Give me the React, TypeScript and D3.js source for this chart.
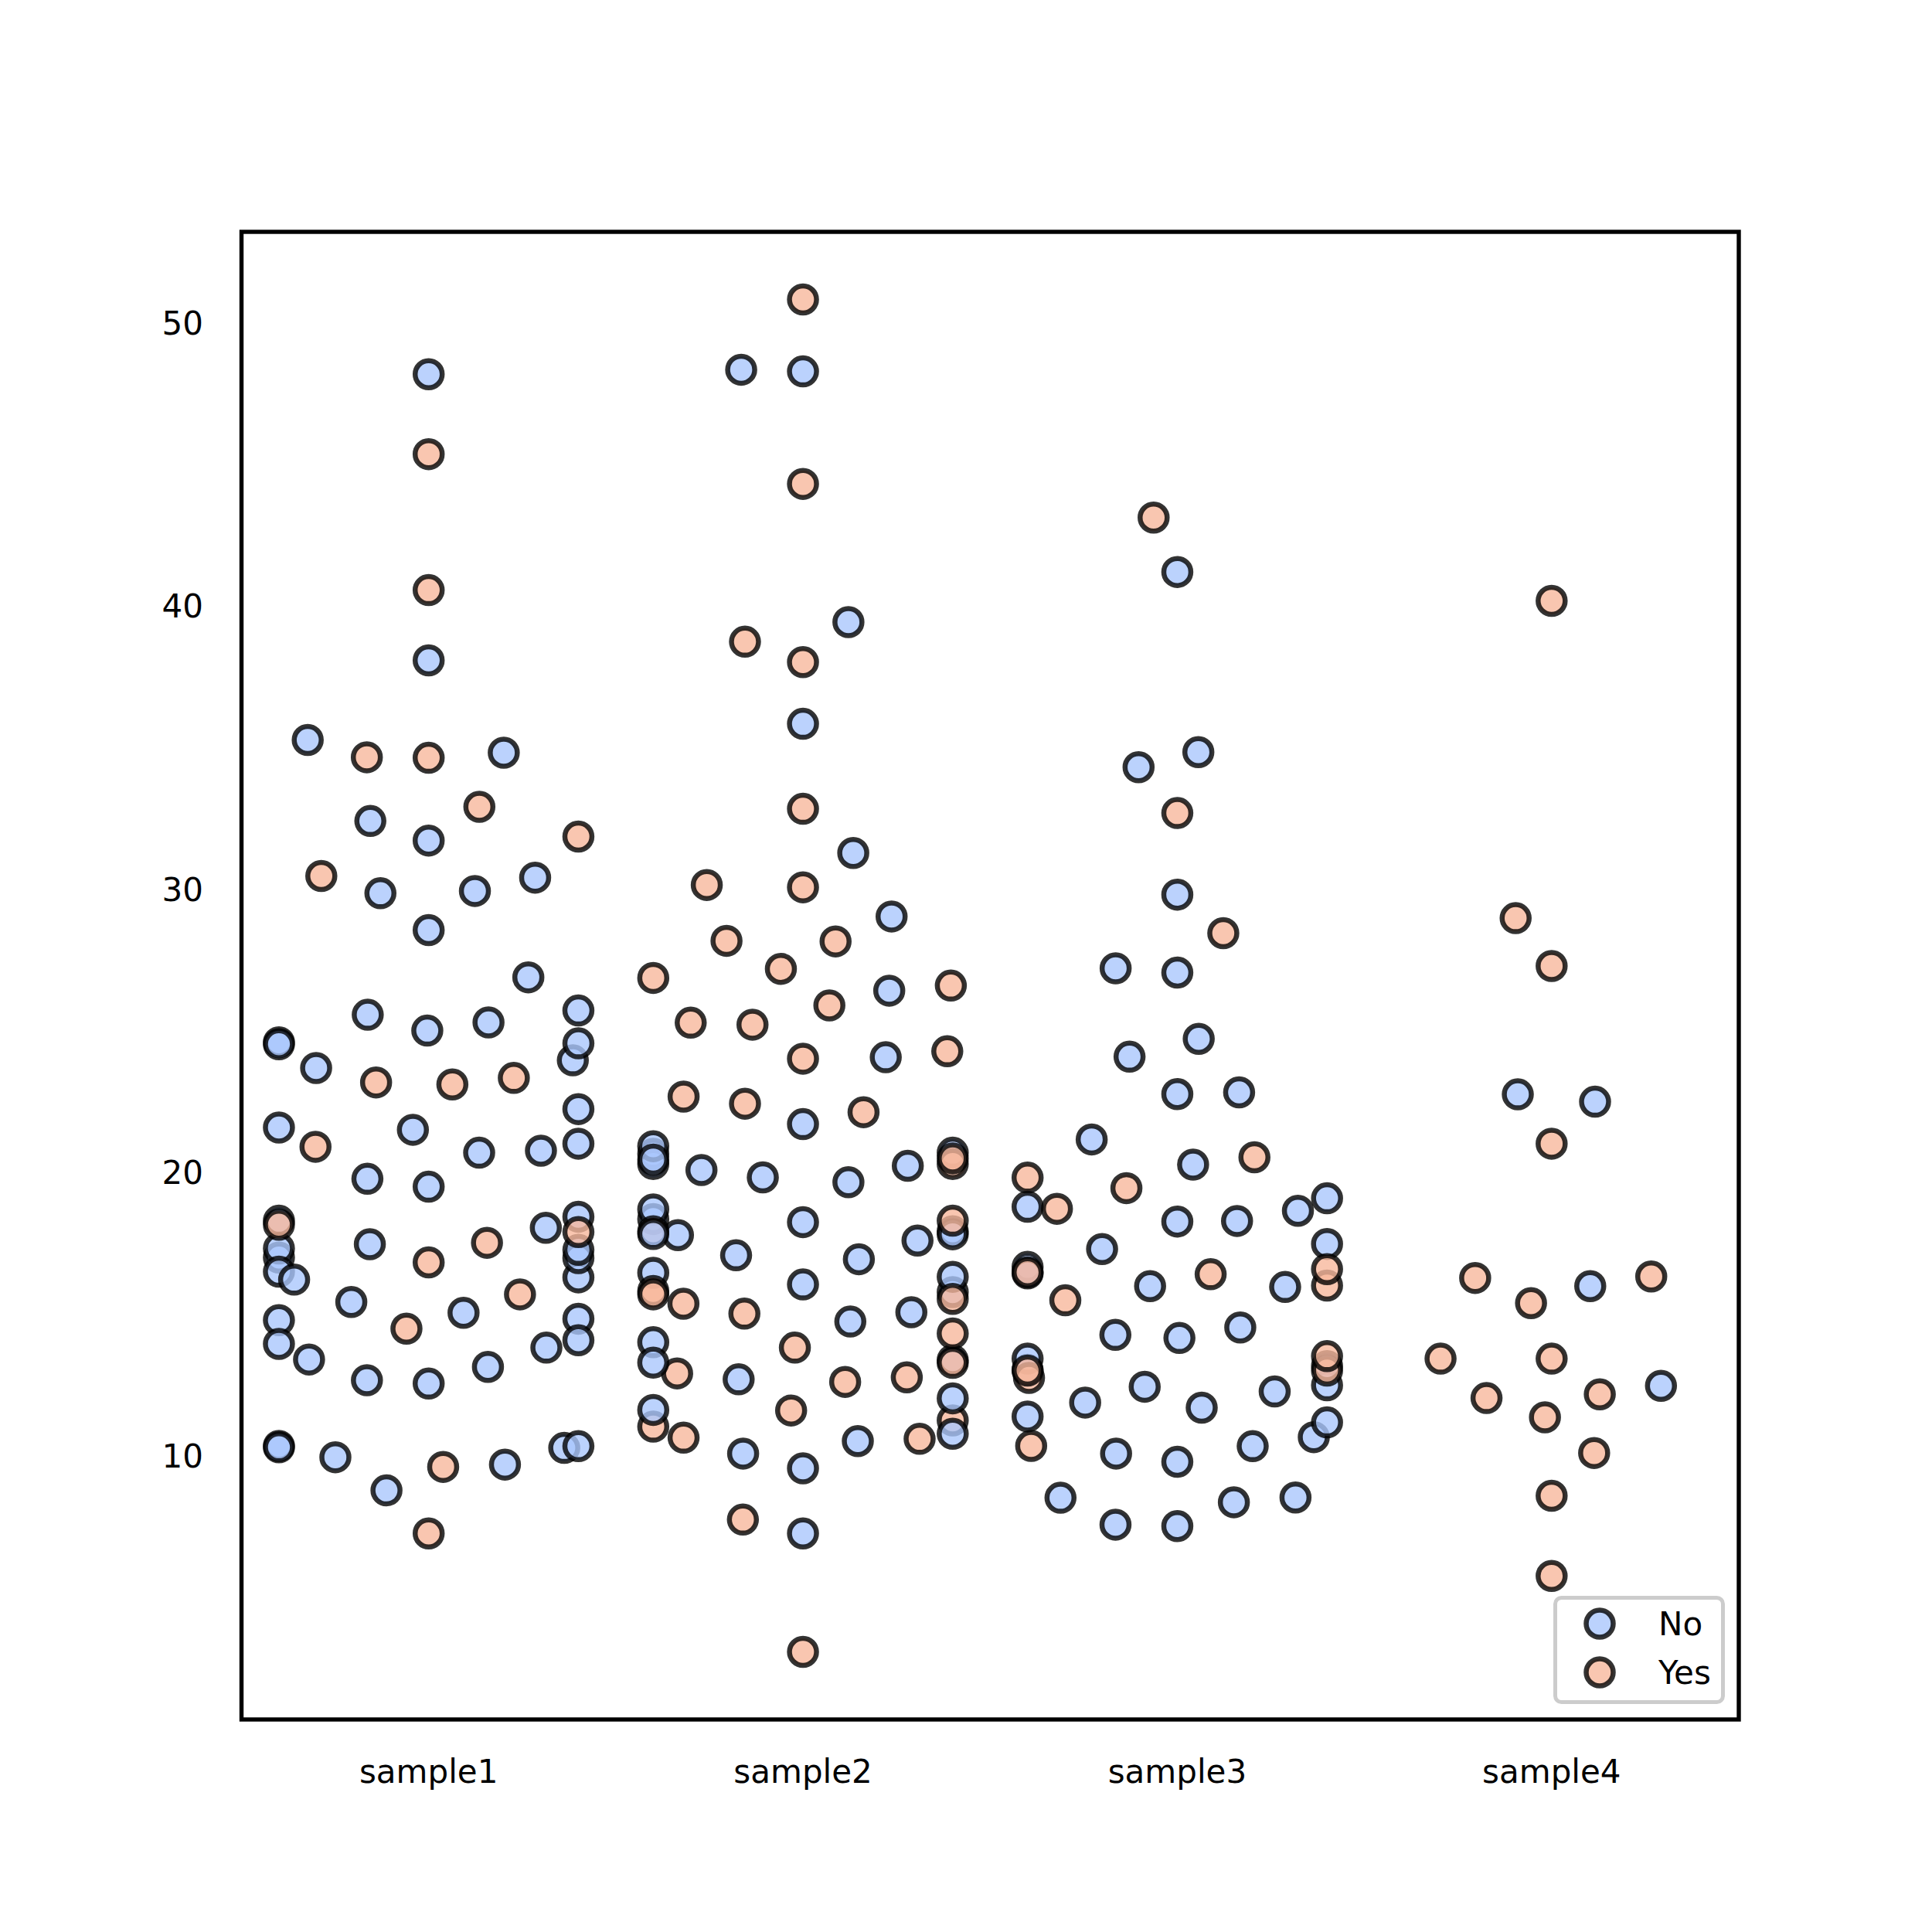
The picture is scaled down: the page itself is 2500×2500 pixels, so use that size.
import React from "react";
import * as d3 from "d3";

// categories and hue levels
const categories = ["sample1", "sample2", "sample3", "sample4"];
const hueLevels = ["No", "Yes"];
const hueColors = ["#aac7fd", "#f7b89c"];

// sample1 values (row order) and hue
const sample1Values = [
  16.99, 10.34, 21.01, 23.68, 24.59, 25.29, 8.77, 26.88, 15.04, 14.78, 10.27, 35.26, 15.42, 18.43, 14.83, 21.58,
  10.33, 16.29, 16.97, 17.46, 13.94, 9.68, 30.4, 18.29, 22.23, 32.4, 28.55, 18.04, 12.54, 10.29, 34.81, 9.94,
  25.56, 19.49, 38.07, 23.95, 25.71, 17.31, 29.93, 14.07, 13.13, 17.26, 24.55, 19.77, 29.85, 48.17, 25.0, 13.39,
  16.49, 21.5, 12.66, 16.21, 13.81, 17.51, 24.52, 20.76, 31.71, 7.25, 31.85, 16.82, 32.9, 17.89, 14.48, 9.6,
  34.63, 34.65, 23.33, 45.35, 23.17, 40.55, 20.69, 20.9, 30.46, 18.15, 23.1, 15.69,
];
const sample1Hue = [
  "No", "No", "No", "No", "No", "No", "No", "No", "No", "No", "No", "No", "No", "No", "No", "No",
  "No", "No", "No", "No", "No", "No", "No", "No", "No", "No", "No", "No", "No", "No", "No", "No",
  "No", "No", "No", "No", "No", "No", "No", "No", "No", "No", "No", "No", "No", "No", "No", "No",
  "No", "No", "No", "No", "No", "Yes", "No", "No", "No", "Yes", "Yes", "Yes", "Yes", "Yes", "Yes", "Yes",
  "Yes", "Yes", "Yes", "Yes", "Yes", "Yes", "No", "Yes", "Yes", "Yes", "Yes", "Yes",
];

// sample2
const sample2Values = [
  20.65, 17.92, 20.29, 15.77, 39.42, 19.82, 17.81, 13.37, 12.69, 21.7, 19.65, 9.55, 18.35, 15.06, 20.69, 17.78,
  24.06, 16.31, 16.93, 18.69, 31.27, 16.04, 38.01, 26.41, 11.24, 48.27, 20.29, 13.81, 11.02, 18.29, 17.59, 20.08,
  16.45, 3.07, 20.23, 15.01, 12.02, 17.07, 26.86, 25.28, 14.73, 10.51, 17.92, 44.3, 22.42, 20.92, 15.36, 20.49,
  25.21, 18.24, 14.31, 14.0, 7.25, 10.59, 10.63, 50.81, 15.81, 26.59, 38.73, 24.27, 12.76, 30.06, 25.89, 48.33,
  13.27, 28.17, 12.9, 28.15, 11.59, 7.74, 30.14, 20.45, 13.28, 22.12, 24.01, 15.69, 11.61, 10.77, 15.53, 10.07,
  12.6, 32.83, 35.83, 29.03, 27.18, 22.67, 17.82,
];
const sample2Hue = [
  "No", "No", "No", "No", "No", "No", "No", "No", "No", "No", "No", "No", "No", "No", "No", "No",
  "No", "No", "No", "No", "No", "No", "Yes", "No", "Yes", "No", "Yes", "Yes", "Yes", "Yes", "No", "No",
  "No", "Yes", "No", "Yes", "No", "No", "Yes", "Yes", "No", "No", "Yes", "Yes", "Yes", "No", "Yes", "Yes",
  "Yes", "No", "Yes", "No", "No", "Yes", "Yes", "Yes", "Yes", "Yes", "Yes", "Yes", "Yes", "Yes", "Yes", "No",
  "Yes", "Yes", "Yes", "Yes", "Yes", "Yes", "Yes", "No", "No", "Yes", "Yes", "Yes", "No", "No", "Yes", "No",
  "Yes", "Yes", "No", "No", "Yes", "Yes", "No",
];

// sample3
const sample3Values = [
  27.2, 22.76, 17.29, 19.44, 16.66, 10.07, 32.68, 15.98, 34.83, 13.03, 18.28, 24.71, 21.16, 10.65, 12.43, 24.08,
  11.69, 13.42, 14.26, 15.95, 12.48, 29.8, 8.52, 14.52, 11.38, 22.82, 19.08, 20.27, 11.17, 12.26, 18.26, 8.51,
  10.33, 14.15, 16.0, 13.16, 17.47, 34.3, 41.19, 27.05, 16.43, 8.35, 18.64, 11.87, 9.78, 7.51, 19.81, 28.44,
  15.48, 16.58, 7.56, 10.34, 43.11, 13.0, 13.51, 18.71, 12.74, 13.0, 16.4, 20.53, 16.47, 18.78,
];
const sample3Hue = [
  "No", "No", "No", "Yes", "No", "No", "Yes", "No", "No", "No", "No", "No", "No", "No", "No", "No",
  "No", "No", "No", "No", "No", "No", "No", "No", "No", "No", "No", "No", "No", "No", "No", "No",
  "No", "No", "Yes", "No", "No", "No", "No", "No", "No", "No", "No", "No", "No", "No", "Yes", "Yes",
  "Yes", "Yes", "No", "Yes", "Yes", "Yes", "Yes", "Yes", "Yes", "Yes", "Yes", "Yes", "Yes", "No",
];

// sample4
const sample4Values = [
  28.97, 22.49, 5.75, 16.32, 22.75, 40.17, 27.28, 12.03, 21.01, 12.46, 11.35, 15.38, 12.16, 13.42, 8.58, 15.98,
  13.42, 16.27, 10.09,
];
const sample4Hue = [
  "Yes", "No", "Yes", "Yes", "No", "Yes", "Yes", "Yes", "Yes", "No", "Yes", "Yes", "Yes", "Yes", "Yes", "No",
  "Yes", "Yes", "Yes",
];

// side taken by points whose two swarm slots are (nearly) equally good
const sample1TieSides: [number, string][] = [[32.4, "L"], [32.9, "R"], [34.81, "R"], [35.26, "L"]];
const sample2TieSides: [number, string][] = [
  [22.12, "R"], [22.42, "L"], [22.67, "L"], [24.06, "R"], [24.27, "R"], [25.21, "L"], [25.28, "L"],
  [25.89, "R"], [26.41, "R"], [26.59, "R"], [26.86, "L"], [27.18, "L"], [29.03, "R"], [30.14, "L"], [31.27, "R"],
];
const sample3TieSides: [number, string][] = [];
const sample4TieSides: [number, string][] = [
  [10.09, "R"], [12.03, "L"], [12.46, "R"], [15.38, "L"], [16.27, "L"], [16.32, "R"], [22.49, "R"], [28.97, "L"],
];

const seriesValues = [sample1Values, sample2Values, sample3Values, sample4Values];
const seriesHue = [sample1Hue, sample2Hue, sample3Hue, sample4Hue];
const seriesTies = [sample1TieSides, sample2TieSides, sample3TieSides, sample4TieSides];

const W = 2500;
const H = 2500;
const margin = { left: 312.5, right: 250, top: 300, bottom: 275 };
const FONT = "DejaVu Sans, sans-serif";
const FS = 42;
const R = 17.5; // drawn marker radius
const SWARM_R = 38.1; // radius used for swarm spacing
const EDGE_W = 6.5;

// seaborn-style beeswarm: returns x offsets (px) from the category center
function beeswarm(vals: number[], ys: number[], r: number, tieSides: [number, string][]): number[] {
  const sides = new Map(tieSides);
  const order = d3.range(ys.length).sort((a, b) => ys[a] - ys[b]);
  const swarm: { x: number; y: number }[] = [];
  const out: number[] = new Array(ys.length).fill(0);
  order.forEach((idx, k) => {
    const y = ys[idx];
    if (k === 0) {
      swarm.push({ x: 0, y });
      return;
    }
    const neighbors: { x: number; y: number }[] = [];
    for (let j = swarm.length - 1; j >= 0; j--) {
      if (y - swarm[j].y < 2 * r) neighbors.push(swarm[j]);
      else break;
    }
    const cands = [0];
    let leftFirst = true;
    for (const nb of neighbors) {
      const dy = y - nb.y;
      const dx = Math.sqrt(Math.max(4 * r * r - dy * dy, 0)) * 1.05;
      if (leftFirst) cands.push(nb.x - dx, nb.x + dx);
      else cands.push(nb.x + dx, nb.x - dx);
      leftFirst = !leftFirst;
    }
    const sorted = cands
      .map((c, i) => ({ c, i }))
      .sort((a, b) => Math.abs(a.c) - Math.abs(b.c) || a.i - b.i)
      .map((d) => d.c);
    const valid = (c: number) => neighbors.every((nb) => (nb.x - c) ** 2 + (nb.y - y) ** 2 >= 4 * r * r);
    let chosen = sorted[0];
    if (neighbors.length) {
      const goods = sorted.filter(valid);
      chosen = goods[0];
      const side = sides.get(vals[idx]);
      if (side && chosen !== 0) {
        const alt = goods.find(
          (c) => Math.sign(c) !== Math.sign(chosen) && Math.abs(Math.abs(c) - Math.abs(chosen)) < 8
        );
        if (alt !== undefined) chosen = side === "L" ? Math.min(chosen, alt) : Math.max(chosen, alt);
      }
    }
    swarm.push({ x: chosen, y });
    out[idx] = chosen;
  });
  return out;
}

export default function App() {
  const x0 = margin.left;
  const x1 = W - margin.right;
  const y0 = margin.top;
  const y1 = H - margin.bottom;

  const all = seriesValues.flat();
  const [mn, mx] = d3.extent(all) as [number, number];
  const pad = (mx - mn) * 0.05;
  const y = d3.scaleLinear().domain([mn - pad, mx + pad]).range([y1, y0]);
  const x = d3.scalePoint<string>().domain(categories).range([x0, x1]).padding(0.5);
  const halfWidth = 0.4 * x.step();
  const color = d3.scaleOrdinal<string, string>().domain(hueLevels).range(hueColors);

  const points = categories.map((cat, ci) => {
    const vals = seriesValues[ci];
    const offs = beeswarm(vals, vals.map((v) => -y(v)), SWARM_R, seriesTies[ci]);
    return vals.map((v, i) => ({
      cx: (x(cat) as number) + Math.max(-halfWidth, Math.min(halfWidth, offs[i])),
      cy: y(v),
      hue: seriesHue[ci][i],
    }));
  });

  const yTicks = y.ticks(5);

  // legend geometry
  const lgX = 2012.5;
  const lgY = 2067.5;
  const lgW = 217;
  const lgH = 135;

  return (
    <svg width={W} height={H} style={{ position: "absolute", left: 0, top: 0 }} fontFamily={FONT}>
      <rect x={0} y={0} width={W} height={H} fill="#fff" />
      {points.map((pts, ci) => (
        <g key={ci}>
          {pts.map((p, i) => (
            <circle
              key={i}
              cx={p.cx}
              cy={p.cy}
              r={R}
              fill={color(p.hue)}
              fillOpacity={0.8}
              stroke="#000"
              strokeOpacity={0.8}
              strokeWidth={EDGE_W}
            />
          ))}
        </g>
      ))}
      <rect x={x0} y={y0} width={x1 - x0} height={y1 - y0} fill="none" stroke="#000" strokeWidth={5.4} />
      {yTicks.map((t) => (
        <text key={t} x={263} y={y(t) + 15.5} textAnchor="end" fontSize={FS} fill="#000">
          {t}
        </text>
      ))}
      {categories.map((c) => (
        <text key={c} x={x(c) as number} y={2307} textAnchor="middle" fontSize={FS} fill="#000">
          {c}
        </text>
      ))}
      <g>
        <rect
          x={lgX}
          y={lgY}
          width={lgW}
          height={lgH}
          rx={8}
          fill="#fff"
          fillOpacity={0.8}
          stroke="#cccccc"
          strokeWidth={5}
        />
        {hueLevels.map((h, i) => (
          <g key={h}>
            <circle
              cx={2070}
              cy={2101 + i * 63}
              r={R}
              fill={color(h)}
              fillOpacity={0.8}
              stroke="#000"
              strokeOpacity={0.8}
              strokeWidth={EDGE_W}
            />
            <text x={2146} y={2101 + i * 63 + 15} fontSize={FS} fill="#000">
              {h}
            </text>
          </g>
        ))}
      </g>
    </svg>
  );
}
